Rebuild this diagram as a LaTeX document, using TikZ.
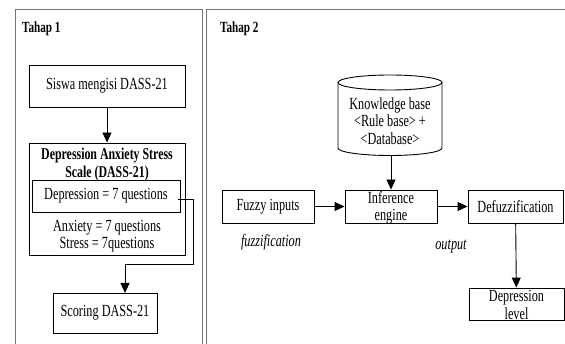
\documentclass[tikz,border=0pt]{standalone}
\usepackage{fontspec}
\setmainfont{Liberation Serif}[FakeStretch=0.72]
\usetikzlibrary{arrows.meta}
\begin{document}
\begin{tikzpicture}[x=1pt,y=-1pt,
  every node/.style={font=\fontsize{17}{17.5}\selectfont},
  panel/.style={draw=black!55,line width=0.9pt},
  box/.style={draw,line width=0.9pt,inner sep=0pt,align=center},
  txt/.style={inner sep=0pt,align=center},
  conn/.style={line width=0.9pt,-{Triangle[length=10pt,width=9pt]}},
  tahap/.style={inner sep=0pt,anchor=west,font=\fontsize{15.5}{17}\selectfont\bfseries}]
\useasboundingbox (0,0) rectangle (565,344);
\begin{scope}
\clip (0,0) rectangle (565,344);
\draw[panel] (15,350) -- (15,9) -- (202,9) -- (202,350);
\draw[panel] (206,350) -- (206,9) -- (575,9);
\end{scope}
\node[tahap] (t1) at (22,29) {Tahap 1};
\node[tahap] (t2) at (220,29) {Tahap 2};
% Tahap 1
\node[box,minimum width=156pt,minimum height=42pt] (siswa) at (107,86) {Siswa mengisi DASS-21};
\node[box,minimum width=156pt,minimum height=112pt] (dass) at (107,199) {};
\node[txt,font=\fontsize{16.5}{18}\selectfont\bfseries] (title) at (107,165) {Depression Anxiety Stress\\Scale (DASS-21)};
\node[box,minimum width=148pt,minimum height=32pt] (dep) at (106,196) {Depression = 7 questions};
\node[txt] (anx) at (107,236) {Anxiety = 7 questions\\Stress = 7questions};
\node[box,minimum width=104pt,minimum height=40pt] (score) at (105,313) {Scoring DASS-21};
\coordinate (depout) at (178,199);
\draw[conn] (siswa) -- (dass);
\draw[conn] (depout) -- (193,199) -- (193,264) -- (125,264) -- (125,293);
% Tahap 2
\draw[line width=0.9pt,fill=white] (338,82.5) -- (338,148) arc[start angle=180,end angle=360,x radius=52pt,y radius=7.5pt] -- (442,82.5);
\draw[line width=0.9pt] (390,82.5) ellipse[x radius=52pt,y radius=7.5pt];
\node[txt,minimum width=104pt,minimum height=80pt] (kb) at (390,115.5) {};
\node[txt] (kbt) at (390,121) {Knowledge base\\{<}Rule base{>} +\\{<}Database{>}};
\node[box,minimum width=92pt,minimum height=33pt] (fuzzy) at (268,206.5) {Fuzzy inputs};
\node[box,minimum width=92pt,minimum height=33pt] (inf) at (391,206.5) {};
\node[txt,font=\fontsize{17}{17}\selectfont] (inft) at (391,208) {Inference\\engine};
\node[box,minimum width=95pt,minimum height=33pt] (defuz) at (515.5,206.5) {Defuzzification};
\node[box,minimum width=95pt,minimum height=32pt] (dl) at (516.5,304) {};
\node[txt,font=\fontsize{17}{18}\selectfont] (dlt) at (516.5,304.5) {Depression\\level};
\node[txt,font=\fontsize{17}{17}\selectfont\itshape] (fz) at (271,242) {fuzzification};
\node[txt,font=\fontsize{17}{17}\selectfont\itshape] (out) at (451,247) {output};
\draw[conn] (kb.south -| inf) -- (inf);
\draw[conn] (fuzzy) -- (inf);
\draw[conn] (inf) -- (defuz);
\draw[conn] (defuz) -- (dl);
\end{tikzpicture}
\end{document}
